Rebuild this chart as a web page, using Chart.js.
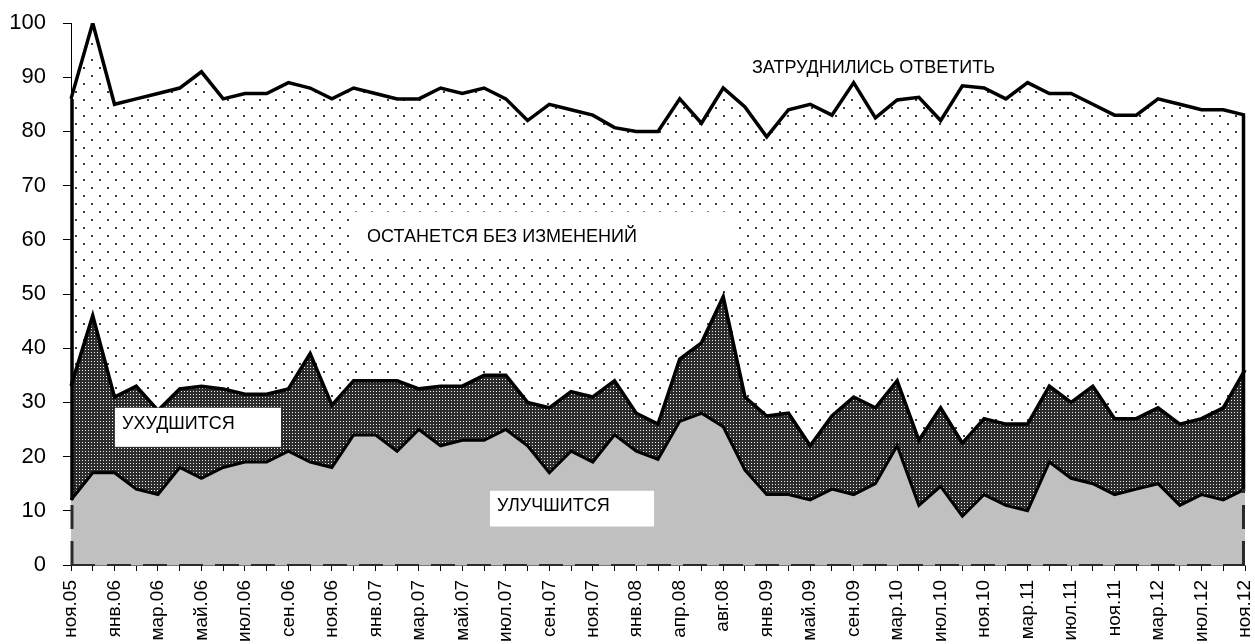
<!DOCTYPE html>
<html lang="ru">
<head>
<meta charset="utf-8">
<title>Ожидания изменений</title>
<script src="https://cdn.jsdelivr.net/npm/chart.js@4/dist/chart.umd.min.js"></script>
<style>
  html, body { margin: 0; padding: 0; background: #fff; }
  #wrap { width: 1255px; height: 644px; }
</style>
</head>
<body>
<div id="wrap"><canvas id="chart" width="1255" height="644"></canvas></div>
<script>
// Survey waves (every other one is labelled on the axis)
const months = [
  'ноя.05','дек.05','янв.06','фев.06','мар.06','апр.06','май.06','июн.06','июл.06','авг.06',
  'сен.06','окт.06','ноя.06','дек.06','янв.07','фев.07','мар.07','апр.07','май.07','июн.07',
  'июл.07','авг.07','сен.07','окт.07','ноя.07','дек.07','янв.08','мар.08','апр.08','июн.08',
  'авг.08','ноя.08','янв.09','мар.09','май.09','июл.09','сен.09','дек.09','мар.10','май.10',
  'июл.10','сен.10','ноя.10','янв.11','мар.11','май.11','июл.11','сен.11','ноя.11','янв.12',
  'мар.12','май.12','июл.12','сен.12','ноя.12'
];

// Shares of answers, %
const improve = [12,17,17,14,13,18,16,18,19,19,21,19,18,24,24,21,25,22,23,23,
  25,22,17,21,19,24,21,19.5,26.5,28,25.5,17.5,13,13,12,14,13,15,22,11,
  14.5,9,13,11,10,19,16,15,13,14,15,11,13,12,14];
const worsen = [21,29,14,19,15.5,14.5,17,14.5,12.5,12.5,11.5,20,11.5,10,10,13,7.5,11,10,12,
  10,8,12,11,12,10,7,6.5,11.5,13,24,13.5,14.5,15,10,13.5,18,14,12,12,
  14.5,13.5,14,15,16,14,14,18,14,13,14,15,14,17,22];
const unchanged = [53,54,54,53,58.5,55.5,58,53.5,55.5,55.5,56.5,49,56.5,54,53,52,53.5,55,54,53,
  51,52,56,52,52,46.7,52,54,48,40.5,38.5,53.5,51.5,56,63,55.5,58,53.5,51.8,63.3,
  53,65.9,61,60,63,54,57,52,56,56,57,59,57,55,47];

const yTicks = [0,10,20,30,40,50,60,70,80,90,100];

const seriesNames = ['УЛУЧШИТСЯ', 'УХУДШИТСЯ', 'ОСТАНЕТСЯ БЕЗ ИЗМЕНЕНИЙ', 'ЗАТРУДНИЛИСЬ ОТВЕТИТЬ'];

const FONT = "'Liberation Sans', Arial, sans-serif";

// Fill patterns
function makePattern(size, bg, dots) {
  const c = document.createElement('canvas');
  c.width = size; c.height = size;
  const g = c.getContext('2d');
  g.fillStyle = bg; g.fillRect(0, 0, size, size);
  dots.forEach(d => { g.fillStyle = d[3]; g.fillRect(d[0], d[1], d[2], d[2]); });
  return g.createPattern(c, 'repeat');
}
const sparseDots = makePattern(16, '#ffffff', [[3, 3, 2, '#3a3a3a'], [11, 11, 2, '#3a3a3a']]);
const denseDots = makePattern(3, '#2c2c2c', [[1, 1, 1, '#f0f0f0']]);

// Text labels placed in data coordinates (category index, value)
const notes = [
  { text: seriesNames[3], x: 31.32, y: 91.7 },
  { text: seriesNames[2], x: 13.62, y: 60.6, box: [13.06, 30.68, 65.2, 57.4] },
  { text: seriesNames[1], x: 2.35, y: 26.1, box: [2.02, 9.66, 29.0, 21.8] },
  { text: seriesNames[0], x: 19.6, y: 10.8, box: [19.27, 26.82, 13.7, 7.1] }
];

// Outline of the stacked areas at both ends, plus the dashed rim of the lowest area
const edgePlugin = {
  id: 'edges',
  afterDatasetsDraw(chart) {
    const xs = chart.scales.x, ys = chart.scales.y, ctx = chart.ctx;
    const last = months.length - 1;
    const y0 = ys.getPixelForValue(0);
    const ends = [0, last].map(i => ({
      x: xs.getPixelForValue(i),
      low: ys.getPixelForValue(improve[i]),
      top: ys.getPixelForValue(improve[i] + worsen[i] + unchanged[i])
    }));
    ctx.save();
    ctx.lineCap = 'butt';
    // dashed rim of the lowest area
    ctx.strokeStyle = '#2b2b2b';
    ctx.setLineDash([24, 12]);
    ctx.lineWidth = 2;
    ctx.beginPath();
    ctx.moveTo(ends[0].x, y0); ctx.lineTo(ends[1].x, y0);
    ctx.stroke();
    ctx.lineWidth = 3;
    ends.forEach((e, k) => {
      const off = k === 0 ? 1 : -1.5;
      ctx.beginPath();
      ctx.moveTo(e.x + off, y0); ctx.lineTo(e.x + off, e.low);
      ctx.stroke();
    });
    // solid outline above it
    ctx.setLineDash([]);
    ctx.strokeStyle = '#000';
    ctx.lineWidth = 3.5;
    ends.forEach((e, k) => {
      const off = k === 0 ? 1 : -1.5;
      ctx.beginPath();
      ctx.moveTo(e.x + off, e.low); ctx.lineTo(e.x + off, e.top);
      ctx.stroke();
    });
    ctx.restore();
  }
};

const notesPlugin = {
  id: 'notes',
  afterDraw(chart) {
    const xs = chart.scales.x, ys = chart.scales.y, ctx = chart.ctx;
    ctx.save();
    notes.forEach(n => {
      if (n.box) {
        const bx0 = xs.getPixelForValue(n.box[0]), bx1 = xs.getPixelForValue(n.box[1]);
        const by0 = ys.getPixelForValue(n.box[2]), by1 = ys.getPixelForValue(n.box[3]);
        ctx.fillStyle = '#fff';
        ctx.fillRect(bx0, by0, bx1 - bx0, by1 - by0);
      }
      ctx.fillStyle = '#000';
      ctx.font = '18px ' + FONT;
      ctx.textAlign = 'left';
      ctx.textBaseline = 'middle';
      ctx.fillText(n.text, xs.getPixelForValue(n.x), ys.getPixelForValue(n.y));
    });
    ctx.restore();
  }
};

const area = (label, data, fill, bg, bw) => ({
  label, data, fill,
  backgroundColor: bg,
  borderColor: '#000',
  borderWidth: bw,
  borderJoinStyle: 'miter',
  pointRadius: 0,
  pointHoverRadius: 0,
  tension: 0
});

new Chart(document.getElementById('chart'), {
  type: 'line',
  data: {
    labels: months,
    datasets: [
      area(seriesNames[0], improve, 'origin', '#c0c0c0', 3),
      area(seriesNames[1], worsen, '-1', denseDots, 3.5),
      area(seriesNames[2], unchanged, '-1', sparseDots, 3.5)
    ]
  },
  options: {
    responsive: false,
    animation: false,
    events: [],
    layout: { padding: { top: 23, right: 10, left: 0, bottom: 0 } },
    plugins: { legend: { display: false }, tooltip: { enabled: false } },
    scales: {
      x: {
        type: 'category',
        offset: false,
        afterFit(s) { s.height = 79; s.paddingLeft = 0; s.paddingRight = 0; },
        grid: { drawOnChartArea: false, drawTicks: true, tickLength: 6, color: '#000', lineWidth: 1 },
        border: { display: true, color: '#777', width: 1 },
        ticks: {
          autoSkip: false,
          maxRotation: 90,
          minRotation: 90,
          padding: 9,
          color: '#000',
          font: { family: FONT, size: 19 },
          callback(v, i) { return i % 2 === 0 ? this.getLabelForValue(v) : ''; }
        }
      },
      y: {
        stacked: true,
        min: 0,
        max: 100,
        afterFit(s) { s.width = 71; s.paddingTop = 0; s.paddingBottom = 0; },
        afterBuildTicks(s) { s.ticks = yTicks.map(v => ({ value: v })); },
        grid: { drawOnChartArea: false, drawTicks: true, tickLength: 8, color: '#000', lineWidth: 1 },
        border: { display: true, color: '#000', width: 1 },
        ticks: {
          padding: 17,
          color: '#000',
          font: { family: FONT, size: 22 }
        }
      }
    }
  },
  plugins: [edgePlugin, notesPlugin]
});
</script>
</body>
</html>
